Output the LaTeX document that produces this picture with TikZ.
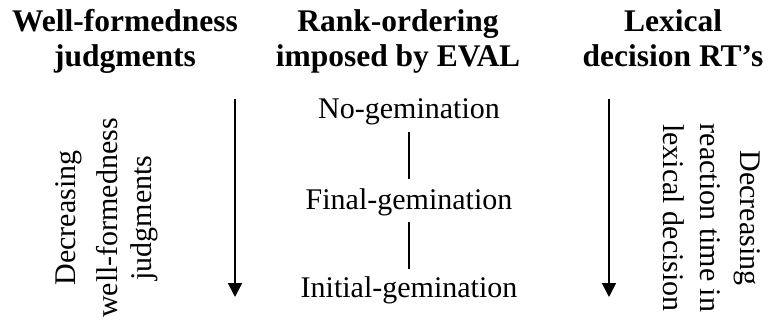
\documentclass[tikz,border=0pt]{standalone}
\usepackage{fontspec}
\setmainfont{Liberation Serif}
\usetikzlibrary{arrows.meta}
\tikzset{
  head/.style={anchor=base, inner sep=0pt, font=\fontsize{31.5}{35}\selectfont\bfseries},
  item/.style={anchor=base, inner sep=0pt, font=\fontsize{30}{36}\selectfont},
  side/.style={anchor=base, inner sep=0pt, font=\fontsize{30}{36}\selectfont},
  link/.style={line width=1.2pt},
  trend/.style={line width=1.7pt, -{Triangle[width=14pt,length=14pt]}}
}
\begin{document}
\begin{tikzpicture}[x=1pt,y=-1pt]
\useasboundingbox (0,0) rectangle (768,332);
% headings
\node[head] (h1a) at (125,31) {Well-formedness};
\node[head] (h1b) at (125,66) {judgments};
\node[head] (h2a) at (398,31) {Rank-ordering};
\node[head] (h2b) at (398,66) {imposed by EVAL};
\node[head] (h3a) at (673,31) {Lexical};
\node[head] (h3b) at (673,66) {decision RT's};
% middle ranking
\node[item] (ng) at (409,118) {No-gemination};
\node[item] (fg) at (409,209) {Final-gemination};
\node[item] (ig) at (409,297) {Initial-gemination};
\draw[link, shorten <=7.5pt, shorten >=8.5pt] (ng.south) -- (fg.north);
\draw[link, shorten <=6.5pt, shorten >=6.5pt] (fg.south) -- (ig.north);
% left side text
\node[side, rotate=90] (l1) at (75,218) {Decreasing};
\node[side, rotate=90] (l2) at (117,218) {well-formedness};
\node[side, rotate=90] (l3) at (151,218) {judgments};
% right side text
\node[side, rotate=-90] (r1) at (740,218) {Decreasing};
\node[side, rotate=-90] (r2) at (700,218) {reaction time in};
\node[side, rotate=-90] (r3) at (663,218) {lexical decision};
% arrows
\coordinate (la1) at (235,99);
\coordinate (la2) at (235,297);
\coordinate (ra1) at (609,99);
\coordinate (ra2) at (609,297);
\draw[trend] (la1) -- (la2);
\draw[trend] (ra1) -- (ra2);
\end{tikzpicture}
\end{document}
